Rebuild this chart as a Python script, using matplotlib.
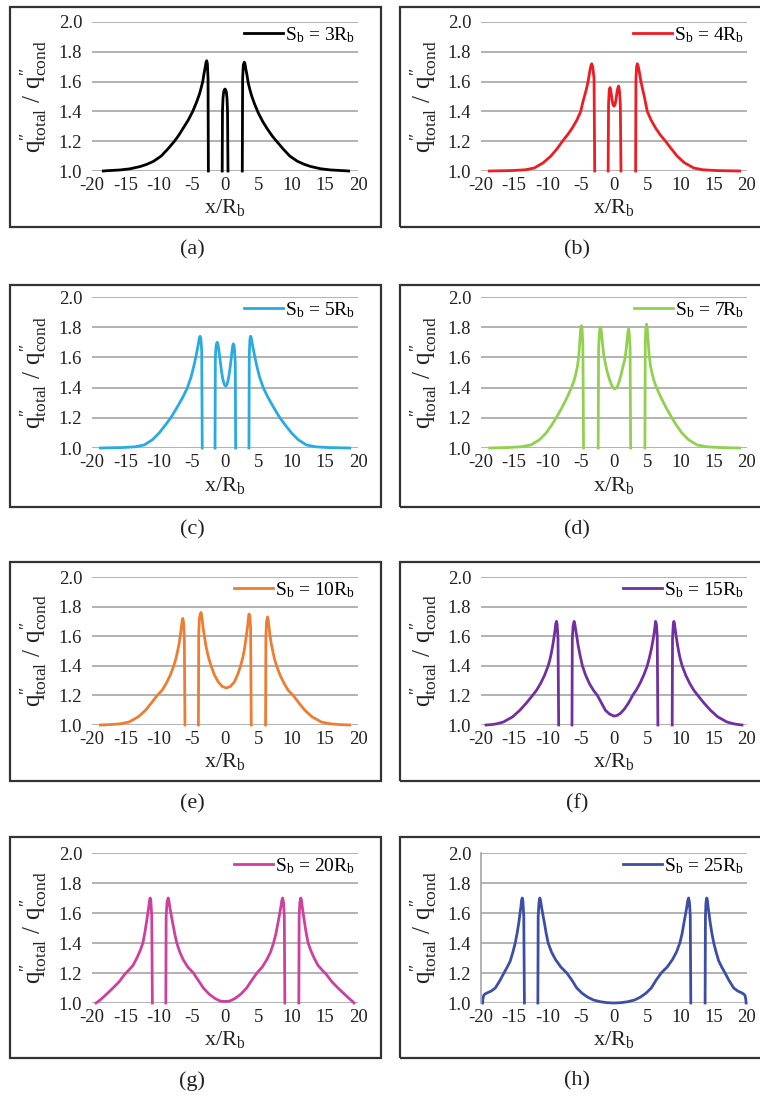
import numpy as np
import matplotlib
matplotlib.use("Agg")
import matplotlib.pyplot as plt
from matplotlib.patches import Rectangle

plt.rcParams['font.family'] = ['Liberation Serif', 'DejaVu Serif']
plt.rcParams['mathtext.fontset'] = 'custom'
plt.rcParams['mathtext.rm'] = 'Liberation Serif'
plt.rcParams['mathtext.it'] = 'Liberation Serif'
plt.rcParams['axes.unicode_minus'] = False

nan = np.nan

# curves; nan splits the pieces between the boreholes
x_a = [-18.3, -17.75, -15.75, -14.25, -12.75, -11.75, -10.75, -9.6, -8.55, -7.6, -6.95, -6.25, -5.55, -4.85,
       -4.25, -3.85, -3.6, -3.35, -3.15, -3.0, -2.85, -2.75, -2.65, -2.55, -2.5, nan,
       -0.42, -0.38, -0.3, -0.2, -0.1, 0, 0.1, 0.2, 0.3, 0.38, 0.45, nan,
       2.6, 2.65, 2.75, 2.9, 3.0, 3.15, 3.3, 3.5, 3.75, 4.0, 4.4, 5.0, 5.7, 6.4, 7.1, 7.75, 8.7, 9.75,
       10.9, 11.9, 12.9, 14.4, 15.9, 17.9, 18.6]
y_a = [1.0, 1.002, 1.007, 1.015, 1.03, 1.045, 1.065, 1.10, 1.15, 1.20, 1.24, 1.29, 1.34, 1.40,
       1.465, 1.515, 1.555, 1.60, 1.655, 1.69, 1.73, 1.74, 1.72, 1.62, 1.0, nan,
       1.0, 1.40, 1.49, 1.53, 1.545, 1.55, 1.545, 1.53, 1.49, 1.40, 1.0, nan,
       1.0, 1.62, 1.71, 1.73, 1.72, 1.68, 1.645, 1.59, 1.545, 1.505, 1.455, 1.39, 1.33, 1.28, 1.235, 1.20, 1.15, 1.10,
       1.065, 1.045, 1.03, 1.015, 1.007, 1.002, 1.0]

x_b = [-18.75, -15.35, -13.35, -12.0, -10.65, -9.5, -8.55, -7.75, -6.95, -6.25, -5.55, -5.0, -4.7, -4.45,
       -4.15, -3.9, -3.75, -3.6, -3.45, -3.35, -3.2, -3.0, -2.9, nan,
       -0.88, -0.82, -0.72, -0.6, -0.45, -0.3, -0.15, 0.0, 0.15, 0.3, 0.45, 0.6, 0.7, 0.82, 0.95, 1.05, nan,
       3.25, 3.3, 3.4, 3.5, 3.6, 3.75, 3.9, 4.05, 4.3, 4.6, 5.0, 5.6, 6.3, 7.0, 7.75, 8.6, 9.5, 10.6, 12.0,
       13.4, 15.4, 18.9]
y_b = [1.0, 1.003, 1.008, 1.02, 1.055, 1.10, 1.15, 1.20, 1.245, 1.29, 1.345, 1.40, 1.46, 1.50,
       1.55, 1.60, 1.64, 1.68, 1.71, 1.72, 1.70, 1.62, 1.0, nan,
       1.0, 1.45, 1.54, 1.56, 1.53, 1.48, 1.445, 1.435, 1.445, 1.48, 1.53, 1.56, 1.57, 1.54, 1.45, 1.0, nan,
       1.0, 1.62, 1.70, 1.72, 1.71, 1.68, 1.64, 1.60, 1.55, 1.49, 1.40, 1.34, 1.285, 1.24, 1.20, 1.15, 1.10, 1.055, 1.02,
       1.008, 1.003, 1.0]

x_c = [-18.75, -15.4, -13.5, -12.15, -10.9, -9.9, -9.0, -8.15, -7.6, -7.0, -6.3, -5.65, -5.1, -4.7, -4.4,
       -4.2, -4.0, -3.85, -3.75, -3.62, -3.5, -3.42, nan,
       -1.5, -1.45, -1.35, -1.25, -1.15, -1.05, -0.9, -0.7, -0.5, -0.3, -0.1, 0.1, 0.3, 0.5, 0.7, 0.9, 1.05,
       1.15, 1.25, 1.35, 1.45, 1.55, 1.6, nan,
       3.6, 3.65, 3.75, 3.85, 3.95, 4.1, 4.3, 4.5, 4.8, 5.2, 5.75, 6.4, 7.1, 7.7, 8.25, 9.1, 10.0, 11.0, 12.25,
       13.6, 15.5, 18.75]
y_c = [1.0, 1.003, 1.008, 1.02, 1.055, 1.10, 1.15, 1.20, 1.24, 1.285, 1.34, 1.40, 1.47, 1.54, 1.60,
       1.645, 1.69, 1.73, 1.74, 1.72, 1.64, 1.0, nan,
       1.0, 1.60, 1.67, 1.695, 1.70, 1.685, 1.64, 1.57, 1.50, 1.45, 1.42, 1.41, 1.42, 1.455, 1.51, 1.58, 1.64,
       1.675, 1.69, 1.68, 1.64, 1.55, 1.0, nan,
       1.0, 1.62, 1.72, 1.74, 1.73, 1.69, 1.645, 1.60, 1.54, 1.47, 1.40, 1.34, 1.285, 1.24, 1.20, 1.15, 1.10, 1.055, 1.02,
       1.008, 1.003, 1.0]

x_d = [-18.7, -16, -14, -12.5, -11.2, -10.2, -9.4, -8.7, -7.8, -7.0, -6.4, -6.05, -5.8, -5.5, -5.3,
       -5.2, -5.1, -5.0, -4.9, -4.8, -4.68, -4.58, nan,
       -2.38, -2.32, -2.2, -2.1, -2.0, -1.9, -1.75, -1.55, -1.3, -1.0, -0.65, -0.3, 0.1, 0.5, 0.85, 1.15, 1.4,
       1.65, 1.85, 2.0, 2.1, 2.2, 2.3, 2.42, 2.5, nan,
       4.65, 4.7, 4.8, 4.9, 5.0, 5.1, 5.2, 5.3, 5.5, 5.8, 6.05, 6.4, 7.0, 7.8, 8.7, 9.4, 10.2, 11.2, 12.5,
       14, 16, 18.9]
y_d = [1.0, 1.003, 1.008, 1.02, 1.055, 1.10, 1.15, 1.20, 1.27, 1.34, 1.40, 1.44, 1.48, 1.54, 1.61,
       1.665, 1.73, 1.79, 1.81, 1.79, 1.68, 1.0, nan,
       1.0, 1.65, 1.76, 1.795, 1.80, 1.77, 1.70, 1.62, 1.56, 1.50, 1.45, 1.41, 1.39, 1.405, 1.45, 1.50, 1.55,
       1.59, 1.66, 1.73, 1.77, 1.79, 1.76, 1.66, 1.0, nan,
       1.0, 1.70, 1.80, 1.82, 1.79, 1.73, 1.665, 1.61, 1.54, 1.48, 1.44, 1.40, 1.34, 1.27, 1.20, 1.15, 1.10, 1.055, 1.02,
       1.008, 1.003, 1.0]

x_e = [-18.75, -17.15, -15.75, -14.45, -13.05, -11.95, -11.05, -10.2, -9.45, -8.85, -8.25, -7.7, -7.4, -7.15,
       -6.9, -6.7, -6.57, -6.45, -6.35, -6.25, -6.12, -6.02, nan,
       -4.0, -3.95, -3.85, -3.72, -3.6, -3.48, -3.3, -3.1, -2.85, -2.5, -2.1, -1.6, -1.0, -0.4, 0.2, 0.8, 1.4,
       1.9, 2.35, 2.7, 2.95, 3.2, 3.38, 3.5, 3.6, 3.72, 3.85, 3.95, nan,
       6.1, 6.15, 6.25, 6.4, 6.5, 6.62, 6.75, 6.95, 7.2, 7.45, 7.75, 8.3, 8.9, 9.5, 10.25, 11.1, 12.0, 13.1, 14.5,
       15.8, 17.2, 18.75]
y_e = [1.0, 1.003, 1.008, 1.02, 1.055, 1.10, 1.15, 1.20, 1.235, 1.28, 1.335, 1.40, 1.445, 1.495,
       1.55, 1.61, 1.66, 1.70, 1.72, 1.70, 1.60, 1.0, nan,
       1.0, 1.62, 1.72, 1.75, 1.76, 1.73, 1.66, 1.60, 1.53, 1.46, 1.40, 1.34, 1.29, 1.26, 1.25, 1.26, 1.29,
       1.34, 1.40, 1.46, 1.52, 1.60, 1.66, 1.71, 1.75, 1.74, 1.66, 1.0, nan,
       1.0, 1.60, 1.70, 1.73, 1.71, 1.66, 1.61, 1.55, 1.495, 1.445, 1.40, 1.335, 1.28, 1.235, 1.20, 1.15, 1.10, 1.055, 1.02,
       1.008, 1.003, 1.0]

x_f = [-19.25, -18.35, -17.65, -16.65, -15.25, -14.15, -13.15, -12.25, -11.65, -11.05, -10.45, -9.9, -9.65, -9.45,
       -9.2, -9.0, -8.87, -8.75, -8.65, -8.55, -8.42, -8.32, nan,
       -6.32, -6.27, -6.15, -6.0, -5.9, -5.75, -5.6, -5.4, -5.1, -4.75, -4.3, -3.7, -3.1, -2.5, -1.9, -1.3, -0.7,
       0.0, 0.5, 1.0, 1.6, 2.2, 2.8, 3.4, 4.0, 4.5, 5.0, 5.35, 5.65, 5.85, 6.0, 6.12, 6.25, 6.38, 6.5, 6.6, nan,
       8.75, 8.8, 8.9, 9.0, 9.1, 9.22, 9.35, 9.55, 9.8, 10.0, 10.25, 10.8, 11.4, 12.0, 12.6, 13.5, 14.5, 15.6, 17.0,
       18.0, 18.7, 19.25]
y_f = [1.0, 1.003, 1.008, 1.02, 1.055, 1.10, 1.15, 1.20, 1.235, 1.28, 1.335, 1.40, 1.44, 1.48,
       1.54, 1.60, 1.64, 1.685, 1.70, 1.68, 1.58, 1.0, nan,
       1.0, 1.58, 1.67, 1.70, 1.685, 1.64, 1.60, 1.54, 1.47, 1.40, 1.34, 1.28, 1.235, 1.20, 1.15, 1.10, 1.075,
       1.06, 1.065, 1.08, 1.11, 1.15, 1.20, 1.24, 1.29, 1.34, 1.40, 1.46, 1.52, 1.57, 1.61, 1.65, 1.70, 1.68, 1.6, 1.0, nan,
       1.0, 1.58, 1.67, 1.70, 1.685, 1.64, 1.60, 1.54, 1.48, 1.44, 1.40, 1.335, 1.28, 1.235, 1.20, 1.15, 1.10, 1.055, 1.02,
       1.008, 1.003, 1.0]

x_g = [-19.4, -19.0, -18.65, -18.15, -17.55, -16.85, -15.95, -15.1, -14.45, -13.85, -13.25, -12.75, -12.35, -12.05,
       -11.8, -11.6, -11.47, -11.35, -11.25, -11.15, -11.02, -10.92, nan,
       -8.9, -8.85, -8.72, -8.55, -8.45, -8.3, -8.1, -7.85, -7.55, -7.25, -6.8, -6.3, -5.6, -4.75, -4.0, -3.25, -2.4,
       -1.5, -0.7, 0, 0.7, 1.5, 2.4, 3.25, 4.0, 4.8, 5.6, 6.3, 6.85, 7.3, 7.65, 7.95, 8.2, 8.4, 8.55, 8.67, 8.8,
       8.92, 9.0, nan,
       11.1, 11.15, 11.25, 11.4, 11.5, 11.62, 11.75, 11.95, 12.2, 12.5, 12.9, 13.4, 14.0, 14.6, 15.25, 16.1, 17.0,
       17.7, 18.3, 18.8, 19.15, 19.4]
y_g = [1.0, 1.012, 1.025, 1.045, 1.07, 1.10, 1.14, 1.19, 1.22, 1.25, 1.30, 1.35, 1.40, 1.47,
       1.54, 1.60, 1.64, 1.685, 1.70, 1.68, 1.58, 1.0, nan,
       1.0, 1.58, 1.67, 1.70, 1.685, 1.64, 1.59, 1.53, 1.46, 1.40, 1.34, 1.29, 1.24, 1.20, 1.15, 1.10, 1.06,
       1.03, 1.013, 1.01, 1.013, 1.03, 1.06, 1.10, 1.15, 1.20, 1.24, 1.29, 1.34, 1.40, 1.46, 1.53, 1.59, 1.64, 1.685, 1.70, 1.67,
       1.58, 1.0, nan,
       1.0, 1.58, 1.67, 1.70, 1.685, 1.64, 1.60, 1.54, 1.47, 1.40, 1.35, 1.30, 1.25, 1.22, 1.19, 1.14, 1.10,
       1.07, 1.045, 1.025, 1.012, 1.0]

x_h = [-19.77, -19.7, -19.6, -19.4, -18.95, -18.45, -17.85, -17.15, -16.55, -16.05, -15.6, -15.2, -14.85, -14.55,
       -14.3, -14.13, -14.0, -13.9, -13.8, -13.7, -13.57, -13.47, nan,
       -11.45, -11.4, -11.28, -11.15, -11.05, -10.9, -10.7, -10.45, -10.2, -9.9, -9.4, -8.8, -8.0, -7.1, -6.3, -5.6,
       -4.8, -4.0, -3.1, -2.0, -1.0, 0, 1.0, 2.0, 3.1, 4.0, 4.8, 5.6, 6.3, 7.1, 8.0, 8.8, 9.4, 9.9, 10.25, 10.5,
       10.75, 10.95, 11.1, 11.22, 11.35, 11.47, 11.55, nan,
       13.7, 13.75, 13.83, 13.95, 14.05, 14.15, 14.28, 14.45, 14.7, 15.0, 15.35, 15.75, 16.2, 16.7, 17.3, 18.0, 18.6,
       19.1, 19.5, 19.7, 19.8, 19.87]
y_h = [1.0, 1.03, 1.05, 1.06, 1.07, 1.08, 1.10, 1.15, 1.20, 1.24, 1.28, 1.34, 1.40, 1.47,
       1.54, 1.60, 1.64, 1.685, 1.70, 1.68, 1.58, 1.0, nan,
       1.0, 1.58, 1.67, 1.70, 1.685, 1.64, 1.59, 1.53, 1.465, 1.40, 1.34, 1.29, 1.24, 1.20, 1.15, 1.10,
       1.065, 1.04, 1.02, 1.008, 1.002, 1.0, 1.002, 1.008, 1.02, 1.04, 1.065, 1.10, 1.15, 1.20, 1.24, 1.29, 1.34, 1.40, 1.465, 1.53,
       1.59, 1.64, 1.685, 1.70, 1.67, 1.58, 1.0, nan,
       1.0, 1.58, 1.67, 1.70, 1.685, 1.64, 1.60, 1.54, 1.47, 1.40, 1.34, 1.28, 1.24, 1.20, 1.15, 1.10, 1.08,
       1.07, 1.06, 1.05, 1.03, 1.0]

spacings = ['3', '4', '5', '7', '10', '15', '20', '25']
panel_tags = ['(a)', '(b)', '(c)', '(d)', '(e)', '(f)', '(g)', '(h)']
colors = ['#000000', '#ee1c23', '#29abe2', '#92d050', '#ed7d31', '#7030a0', '#cf3f9e', '#3d4ea6']
xs = [x_a, x_b, x_c, x_d, x_e, x_f, x_g, x_h]
ys = [y_a, y_b, y_c, y_d, y_e, y_f, y_g, y_h]

ylab = '$\\mathrm{q}^{\u2033}_{\\mathrm{total}}\\ /\\ \\mathrm{q}^{\u2033}_{\\mathrm{cond}}$'

W, H = 760, 1097
fig = plt.figure(figsize=(W / 100, H / 100), dpi=100)

# pixel layout of the 4x2 grid
box_cols = [(10, 381), (400, 775)]
box_rows = [(7, 227), (285, 507), (562, 781), (837, 1058)]
plot_cols = [(92, 358), (481, 747)]
plot_rows = [(22, 171), (297, 448), (577, 725), (853, 1003)]
ylab_x = [34, 424]
tag_x = [192, 577]

for i in range(8):
    r, c = divmod(i, 2)
    bx0, bx1 = box_cols[c]
    by0, by1 = box_rows[r]
    fig.add_artist(Rectangle((bx0 / W, 1 - by1 / H), (bx1 - bx0) / W, (by1 - by0) / H,
                             transform=fig.transFigure, fill=False, lw=1.6, ec='#333333'))
    px0, px1 = plot_cols[c]
    py0, py1 = plot_rows[r]
    ax = fig.add_axes([px0 / W, 1 - py1 / H, (px1 - px0) / W, (py1 - py0) / H])
    ax.plot(xs[i], ys[i], color=colors[i], lw=2.0, clip_on=False,
            label=r'S$_\mathrm{b}$ = ' + spacings[i] + r'R$_\mathrm{b}$')
    ax.set_xlim(-20, 20)
    ax.set_ylim(1.0, 2.0)
    ax.set_xticks(np.arange(-20, 21, 5))
    ax.set_yticks(np.arange(1.0, 2.01, 0.2))
    ax.set_yticklabels(['%.1f' % v for v in np.arange(1.0, 2.01, 0.2)])
    ax.grid(axis='y', color='#a6a6a6', lw=1.2)
    ax.set_axisbelow(True)
    for s in ax.spines.values():
        s.set_visible(False)
    if i == 7:
        ax.spines['left'].set_visible(True)
        ax.spines['left'].set_color('#a6a6a6')
        ax.spines['left'].set_linewidth(1.2)
    ax.tick_params(length=0, labelsize=13.5, colors='#222222')
    ax.tick_params(axis='y', pad=7)
    ax.tick_params(axis='x', pad=4)
    ax.text(0.5, -37 / (py1 - py0), r'x/R$_\mathrm{b}$', transform=ax.transAxes,
            ha='center', va='center', fontsize=16, color='#222222')
    ax.text((ylab_x[c] - px0) / (px1 - px0), 0.5, ylab, transform=ax.transAxes, rotation=90,
            ha='center', va='center', fontsize=18, color='#222222')
    ax.legend(loc='upper right', bbox_to_anchor=(1.0, 1.0), frameon=False, fontsize=14,
              handlelength=2.0, handletextpad=0.1, borderaxespad=0.0, borderpad=0.15)
    fig.text(tag_x[c] / W, 1 - (by1 + 23) / H, panel_tags[i], ha='center', va='center',
             fontsize=16, color='#222222')

fig.savefig('out.png', dpi=100)
